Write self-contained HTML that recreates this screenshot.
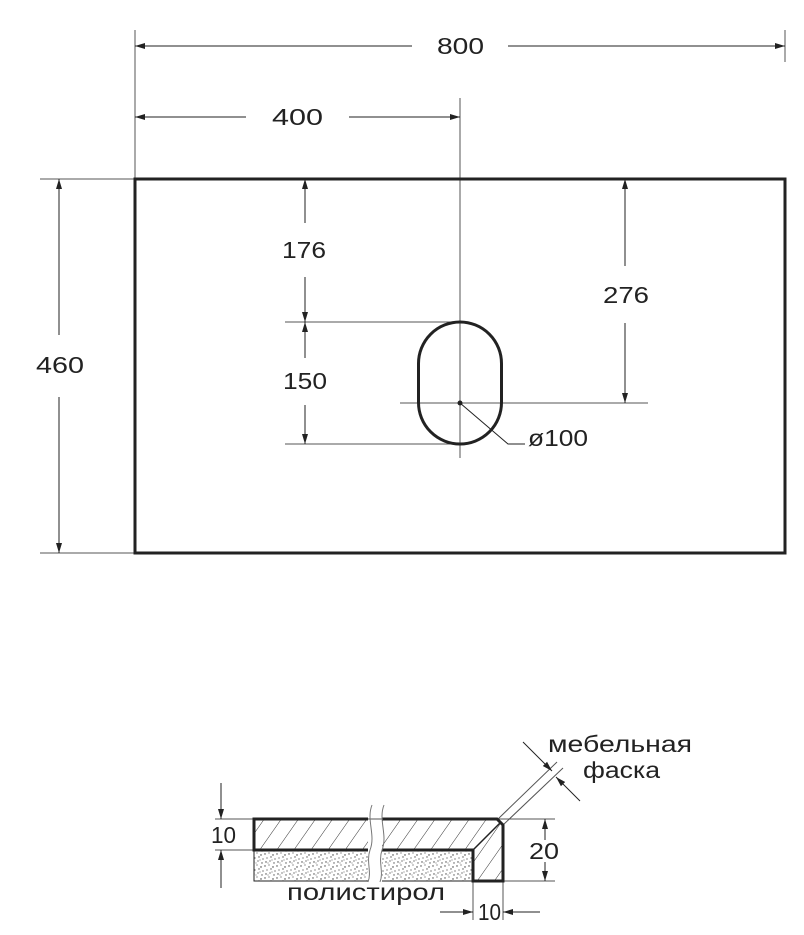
<!DOCTYPE html>
<html><head><meta charset="utf-8"><style>
html,body{margin:0;padding:0;background:#fff;}
svg{display:block}
text{font-family:"Liberation Sans","DejaVu Sans",sans-serif;font-size:23px;fill:#222;}
</style></head><body>
<svg width="804" height="935" viewBox="0 0 804 935" xmlns="http://www.w3.org/2000/svg">
<defs>
<marker id="a" viewBox="0 0 10 10" refX="10" refY="5" markerWidth="10" markerHeight="10" markerUnits="userSpaceOnUse" orient="auto-start-reverse"><path d="M0,2 L10,5 L0,8 z" fill="#222"/></marker>
<pattern id="h" width="14" height="14" patternUnits="userSpaceOnUse" patternTransform="rotate(35)"><line x1="0" y1="0" x2="0" y2="14" stroke="#333" stroke-width="1"/></pattern>
<pattern id="s" width="12" height="12" patternUnits="userSpaceOnUse">
<circle cx="1" cy="2" r="0.7" fill="#444"/><circle cx="5" cy="1" r="0.6" fill="#555"/><circle cx="9" cy="3" r="0.7" fill="#333"/><circle cx="3" cy="6" r="0.6" fill="#444"/><circle cx="7" cy="5" r="0.7" fill="#555"/><circle cx="11" cy="7" r="0.6" fill="#333"/><circle cx="2" cy="10" r="0.7" fill="#444"/><circle cx="6" cy="9" r="0.6" fill="#333"/><circle cx="10" cy="11" r="0.7" fill="#555"/><circle cx="8" cy="8" r="0.5" fill="#444"/><circle cx="4" cy="11" r="0.5" fill="#555"/>
</pattern>
</defs>
<g stroke="#555" stroke-width="1" fill="none">
<line x1="135" y1="30" x2="135" y2="179"/>
<line x1="785" y1="30" x2="785" y2="62"/>
<line x1="40" y1="179" x2="135" y2="179"/>
<line x1="40" y1="553" x2="135" y2="553"/>
<line x1="460" y1="98" x2="460" y2="458"/>
<line x1="400" y1="403" x2="648" y2="403"/>
<line x1="285" y1="322" x2="460" y2="322"/>
<line x1="285" y1="444" x2="460" y2="444"/>
</g>
<g stroke="#222" stroke-width="1" fill="none">
<line x1="135" y1="46" x2="412" y2="46" marker-start="url(#a)"/>
<line x1="508" y1="46" x2="785" y2="46" marker-end="url(#a)"/>
<line x1="135" y1="117" x2="246" y2="117" marker-start="url(#a)"/>
<line x1="349" y1="117" x2="460" y2="117" marker-end="url(#a)"/>
<line x1="59" y1="179" x2="59" y2="335" marker-start="url(#a)"/>
<line x1="59" y1="397" x2="59" y2="553" marker-end="url(#a)"/>
<line x1="305" y1="179" x2="305" y2="223" marker-start="url(#a)"/>
<line x1="305" y1="277" x2="305" y2="322" marker-end="url(#a)"/>
<line x1="305" y1="322" x2="305" y2="358" marker-start="url(#a)"/>
<line x1="305" y1="405" x2="305" y2="444" marker-end="url(#a)"/>
<line x1="625" y1="179" x2="625" y2="266" marker-start="url(#a)"/>
<line x1="625" y1="323" x2="625" y2="403" marker-end="url(#a)"/>
<polyline points="460,403 508,444 525,444"/>
</g>
<rect x="135" y="179" width="650" height="374" fill="none" stroke="#222" stroke-width="3"/>
<rect x="418.5" y="322" width="83" height="122" rx="41.5" ry="41.5" fill="none" stroke="#222" stroke-width="3"/>
<circle cx="460" cy="403" r="2.5" fill="#222"/>
<text x="437" y="54" textLength="47" lengthAdjust="spacingAndGlyphs">800</text>
<text x="272" y="125" textLength="51" lengthAdjust="spacingAndGlyphs">400</text>
<text x="36" y="373" textLength="48" lengthAdjust="spacingAndGlyphs">460</text>
<text x="282" y="258" textLength="44" lengthAdjust="spacingAndGlyphs">176</text>
<text x="283" y="389" textLength="44" lengthAdjust="spacingAndGlyphs">150</text>
<text x="603" y="303" textLength="46" lengthAdjust="spacingAndGlyphs">276</text>
<text x="528" y="446" textLength="60" lengthAdjust="spacingAndGlyphs">ø100</text>

<g stroke="#555" stroke-width="1" fill="none">
<line x1="215" y1="819" x2="555" y2="819"/>
<line x1="215" y1="850" x2="254" y2="850"/>
<line x1="503" y1="881" x2="555" y2="881"/>
<line x1="473" y1="881" x2="473" y2="920"/>
<line x1="503" y1="881" x2="503" y2="920"/>
<line x1="498" y1="819" x2="557" y2="762"/>
<line x1="503" y1="825" x2="563" y2="768"/>
</g>
<g stroke="#222" stroke-width="1" fill="none">
<line x1="221" y1="783" x2="221" y2="819" marker-end="url(#a)"/>
<line x1="221" y1="888" x2="221" y2="850" marker-end="url(#a)"/>
<line x1="545" y1="819" x2="545" y2="840" marker-start="url(#a)"/>
<line x1="545" y1="862" x2="545" y2="881" marker-end="url(#a)"/>
<line x1="440" y1="912" x2="473" y2="912" marker-end="url(#a)"/>
<line x1="540" y1="912" x2="503" y2="912" marker-end="url(#a)"/>
<line x1="523" y1="742" x2="552" y2="771" marker-end="url(#a)"/>
<line x1="580" y1="801" x2="556" y2="777" marker-end="url(#a)"/>
</g>
<rect x="254" y="850" width="114" height="31" fill="url(#s)"/>
<rect x="382" y="850" width="91" height="31" fill="url(#s)"/>
<path d="M254,819 H368 V850 H254 Z" fill="url(#h)"/>
<path d="M382,819 H497 L503,825 V881 H473 V850 H382 Z" fill="url(#h)"/>
<path d="M368,819 H254 V850 H368" fill="none" stroke="#222" stroke-width="3"/>
<path d="M382,819 H497 L503,825 V881 H473 V850 H382" fill="none" stroke="#222" stroke-width="3"/>
<line x1="473" y1="850" x2="500" y2="823" stroke="#222" stroke-width="1.5"/>
<path d="M254,850 V881 H368" fill="none" stroke="#222" stroke-width="1"/>
<path d="M382,881 H473" fill="none" stroke="#222" stroke-width="1"/>
<path d="M372,805 C366,820 376,835 370,850 C366,862 372,872 368,882" fill="none" stroke="#777" stroke-width="1"/>
<path d="M384,805 C378,820 388,835 382,850 C378,862 384,872 380,882" fill="none" stroke="#777" stroke-width="1"/>
<text x="211" y="843" textLength="25" lengthAdjust="spacingAndGlyphs">10</text>
<text x="529" y="859" textLength="30" lengthAdjust="spacingAndGlyphs">20</text>
<text x="478" y="920" textLength="23" lengthAdjust="spacingAndGlyphs">10</text>
<text x="287" y="900" textLength="158" lengthAdjust="spacingAndGlyphs">полистирол</text>
<text x="548" y="752" textLength="144" lengthAdjust="spacingAndGlyphs">мебельная</text>
<text x="583" y="778" textLength="77" lengthAdjust="spacingAndGlyphs">фаска</text>
</svg>
</body></html>
